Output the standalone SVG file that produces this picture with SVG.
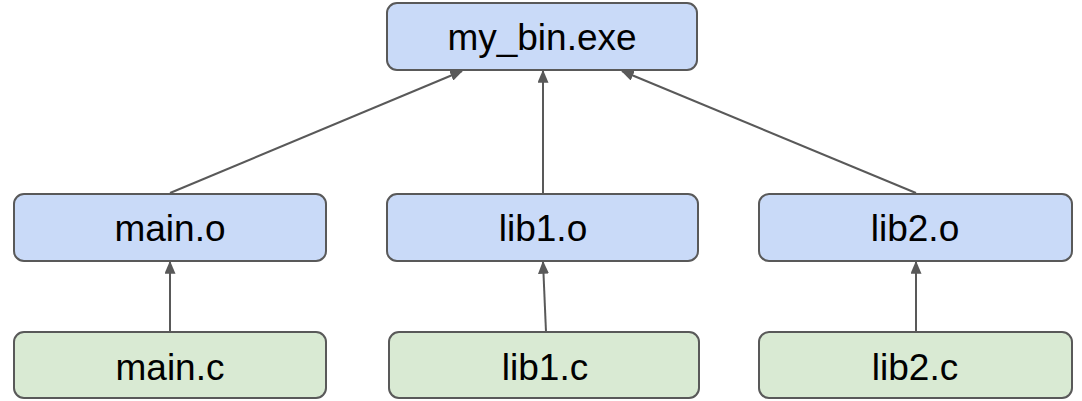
<svg xmlns="http://www.w3.org/2000/svg" width="1082" height="401" viewBox="0 0 1082 401">
  <defs>
    <style>
      .box { stroke: #595959; stroke-width: 2; }
      .obj { fill: #c9daf8; }
      .src { fill: #d9ead3; }
      .label { font-family: "Liberation Sans", Arial, sans-serif; font-size: 37px; fill: #000; text-anchor: middle; }
      .edge { stroke: #595959; stroke-width: 2; fill: none; marker-end: url(#arrow); }
    </style>
    <marker id="arrow" viewBox="0 0 10 10" refX="9" refY="5" markerWidth="13" markerHeight="11" markerUnits="userSpaceOnUse" orient="auto" preserveAspectRatio="none">
      <path d="M0,0 L10,5 L0,10 Z" fill="#595959"/>
    </marker>
  </defs>
  <rect width="1082" height="401" fill="#ffffff"/>

  <g id="connectors">
    <line class="edge" x1="170" y1="193" x2="462" y2="71"/>
    <line class="edge" x1="543" y1="193" x2="543" y2="71"/>
    <line class="edge" x1="916" y1="193" x2="622" y2="71"/>
    <line class="edge" x1="170" y1="332" x2="170" y2="262"/>
    <line class="edge" x1="546" y1="332" x2="543" y2="262"/>
    <line class="edge" x1="916" y1="332" x2="916" y2="262"/>
  </g>

  <g id="my_bin_exe">
    <rect class="box obj" x="387" y="3" width="310" height="67" rx="10"/>
    <text class="label" x="542" y="50">my_bin.exe</text>
  </g>
  <g id="main_o">
    <rect class="box obj" x="14" y="194" width="312" height="67" rx="10"/>
    <text class="label" x="170" y="241">main.o</text>
  </g>
  <g id="lib1_o">
    <rect class="box obj" x="387" y="194" width="311" height="67" rx="10"/>
    <text class="label" x="543" y="241">lib1.o</text>
  </g>
  <g id="lib2_o">
    <rect class="box obj" x="759" y="194" width="313" height="67" rx="10"/>
    <text class="label" x="915" y="241">lib2.o</text>
  </g>
  <g id="main_c">
    <rect class="box src" x="14" y="332" width="312" height="66" rx="10"/>
    <text class="label" x="170" y="380">main.c</text>
  </g>
  <g id="lib1_c">
    <rect class="box src" x="389" y="332" width="310" height="66" rx="10"/>
    <text class="label" x="545" y="380">lib1.c</text>
  </g>
  <g id="lib2_c">
    <rect class="box src" x="759" y="332" width="313" height="66" rx="10"/>
    <text class="label" x="915" y="380">lib2.c</text>
  </g>
</svg>
